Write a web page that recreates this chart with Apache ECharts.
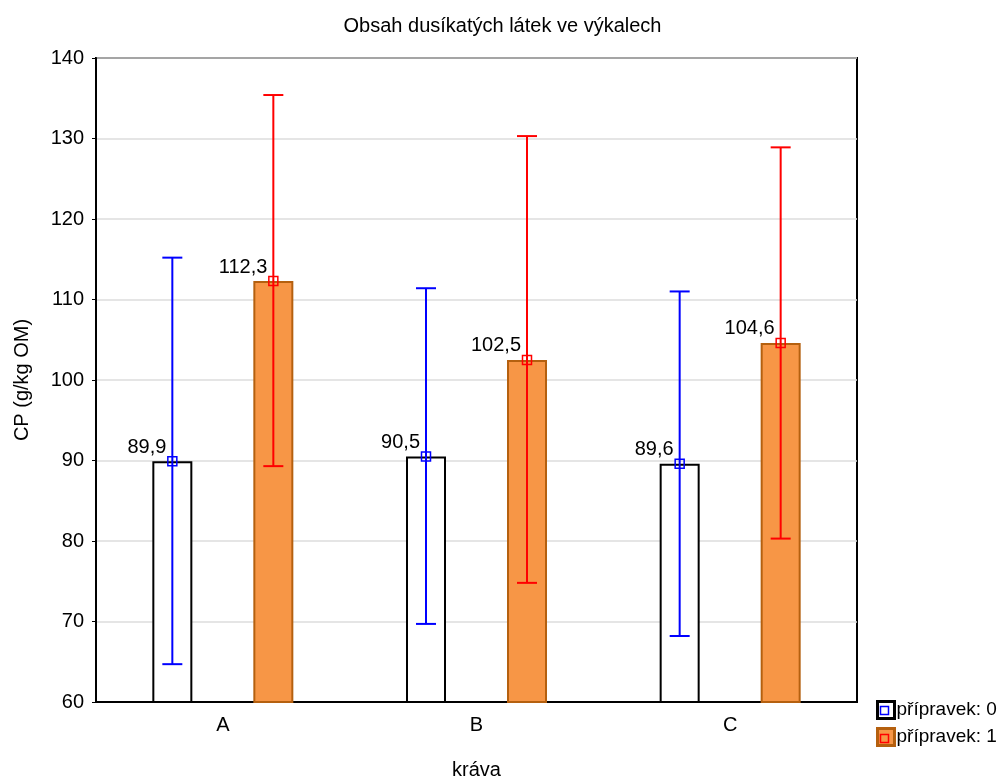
<!DOCTYPE html>
<html>
<head>
<meta charset="utf-8">
<script src="https://cdn.jsdelivr.net/npm/echarts@6/dist/echarts.min.js"></script>
<style>
  html, body { margin: 0; padding: 0; background: #fff; }
  #chart { width: 1005px; height: 778px; }
</style>
</head>
<body>
<div id="chart"></div>
<script>
// data
const categories = ['A', 'B', 'C']
const mean0 = [89.9, 90.5, 89.6]
const low0 = [64.7, 69.7, 68.2]
const high0 = [115.2, 111.4, 111.0]
const mean1 = [112.3, 102.5, 104.6]
const low1 = [89.3, 74.8, 80.3]
const high1 = [135.4, 130.3, 128.9]
const seriesNames = ['přípravek: 0', 'přípravek: 1']

const font = 'Liberation Sans, Arial, sans-serif'
const fs = 20
const barW = 40
const barGapPx = 61
const off = (barW + barGapPx) / 2

function errData(mean, low, high) {
  return mean.map((m, i) => [i, m, low[i], high[i]])
}

function errRender(shift, color) {
  return function (params, api) {
    const i = api.value(0)
    const pm = api.coord([i, api.value(1)])
    const x = pm[0] + shift
    const yl = api.coord([i, api.value(2)])[1]
    const yh = api.coord([i, api.value(3)])[1]
    const cap = 10
    const st = { stroke: color, lineWidth: 2, fill: null }
    return {
      type: 'group',
      children: [
        { type: 'line', shape: { x1: x, y1: yh, x2: x, y2: yl }, style: st },
        { type: 'line', shape: { x1: x - cap, y1: yh, x2: x + cap, y2: yh }, style: st },
        { type: 'line', shape: { x1: x - cap, y1: yl, x2: x + cap, y2: yl }, style: st },
        { type: 'rect', shape: { x: x - 4.5, y: pm[1] - 4.5, width: 9, height: 9 },
          style: { stroke: color, lineWidth: 1.5, fill: null } }
      ]
    }
  }
}

const barLabel = {
  show: true,
  position: [14, -4],
  align: 'right',
  verticalAlign: 'bottom',
  color: '#000',
  fontSize: fs,
  fontFamily: font,
  formatter: p => String(p.value.toFixed(1)).replace('.', ',')
}

const chart = echarts.init(document.getElementById('chart'))
chart.setOption({
  animation: false,
  backgroundColor: '#fff',
  textStyle: { fontFamily: font },
  title: {
    text: 'Obsah dusíkatých látek ve výkalech',
    left: 'center',
    top: 11,
    textStyle: { fontSize: fs, fontWeight: 'normal', color: '#000', fontFamily: font }
  },
  legend: {
    orient: 'vertical',
    left: 876,
    top: 700,
    padding: 0,
    itemWidth: 17,
    itemHeight: 17,
    itemGap: 7,
    icon: 'rect',
    data: seriesNames,
    itemStyle: { borderWidth: 3 },
    textStyle: { fontSize: 19, color: '#000', fontFamily: font, padding: [0, 0, 0, -3] }
  },
  grid: {
    left: 96,
    right: 148,
    top: 58,
    bottom: 76,
    outerBoundsMode: 'none',
    show: true,
    borderColor: '#000',
    borderWidth: 2
  },
  xAxis: {
    type: 'category',
    data: categories,
    name: 'kráva',
    nameLocation: 'middle',
    nameGap: 58,
    nameTextStyle: { fontSize: fs, color: '#000', fontFamily: font },
    axisLine: { lineStyle: { color: '#000', width: 2 } },
    axisTick: { inside: true, length: 4, alignWithLabel: true, lineStyle: { color: '#000' } },
    axisLabel: { fontSize: fs, color: '#000', margin: 13, fontFamily: font },
    splitLine: { show: false }
  },
  yAxis: {
    type: 'value',
    min: 60,
    max: 140,
    interval: 10,
    name: 'CP (g/kg OM)',
    nameLocation: 'middle',
    nameRotate: 90,
    nameGap: 64,
    nameTextStyle: { fontSize: fs, color: '#000', fontFamily: font },
    axisLine: { show: true, lineStyle: { color: '#000', width: 2 } },
    axisTick: { show: true, length: 4, lineStyle: { color: '#000' } },
    axisLabel: { fontSize: fs, color: '#000', margin: 12, fontFamily: font },
    splitLine: { show: true, lineStyle: { color: '#dcdcdc', width: 1.5 } }
  },
  series: [
    {
      name: seriesNames[0],
      type: 'bar',
      barWidth: barW,
      barGap: (barGapPx / barW * 100) + '%',
      data: mean0,
      itemStyle: { color: '#fff', borderColor: '#000', borderWidth: 2 },
      label: barLabel
    },
    {
      name: seriesNames[1],
      type: 'bar',
      barWidth: barW,
      data: mean1,
      itemStyle: { color: '#F79646', borderColor: '#B5600F', borderWidth: 2 },
      label: barLabel
    },
    {
      type: 'custom',
      renderItem: errRender(-off, '#0000ff'),
      encode: { x: 0, y: [1, 2, 3] },
      data: errData(mean0, low0, high0),
      z: 5
    },
    {
      type: 'custom',
      renderItem: errRender(off, '#ff0000'),
      encode: { x: 0, y: [1, 2, 3] },
      data: errData(mean1, low1, high1),
      z: 5
    }
  ],
  graphic: [
    { type: 'rect', shape: { x: 880.5, y: 706.5, width: 8, height: 8 },
      style: { fill: null, stroke: '#0000ff', lineWidth: 1.5 }, z: 100 },
    { type: 'rect', shape: { x: 880.5, y: 734.5, width: 8, height: 8 },
      style: { fill: null, stroke: '#ff0000', lineWidth: 1.5 }, z: 100 }
  ]
})
</script>
</body>
</html>
